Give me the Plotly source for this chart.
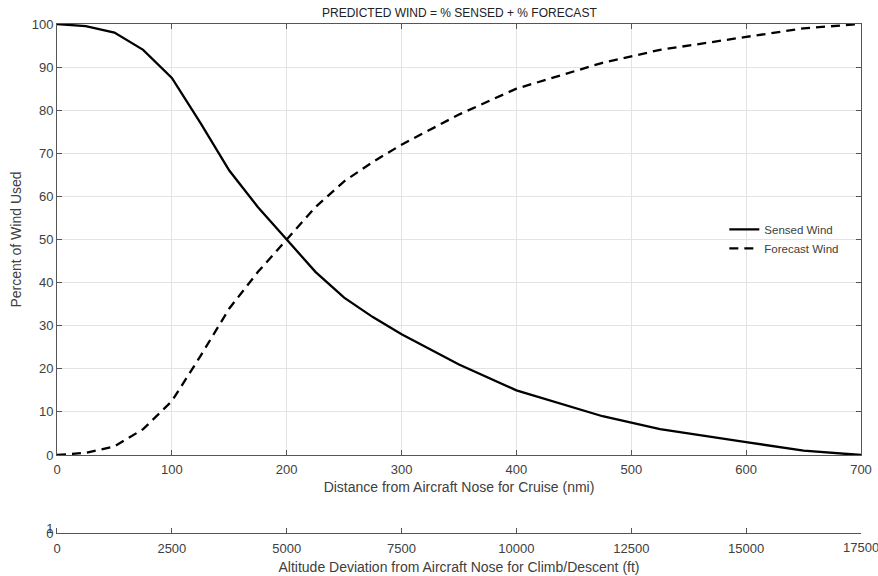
import plotly.graph_objects as go

# Distance from aircraft nose (nmi) and share of wind taken from each source (%)
distance_nmi = [0, 25, 50, 75, 100, 125, 150, 175, 200, 225, 250, 275, 300,
                350, 400, 450, 475, 500, 525, 600, 650, 700]
sensed_pct = [100, 99.5, 98, 94, 87.5, 77, 66, 57.5, 50, 42.5, 36.5, 32, 28,
              21, 15, 11, 9, 7.5, 6, 3, 1, 0]
forecast_pct = [0, 0.5, 2, 6, 12.5, 23, 34, 42.5, 50, 57.5, 63.5, 68, 72,
                79, 85, 89, 91, 92.5, 94, 97, 99, 100]

cruise_ticks = [0, 100, 200, 300, 400, 500, 600, 700]
pct_ticks = [0, 10, 20, 30, 40, 50, 60, 70, 80, 90, 100]
altitude_ticks = [0, 2500, 5000, 7500, 10000, 12500, 15000, 17500]

FONT = "Liberation Sans, Arial, sans-serif"
TXT = "#404040"
AX = "#555555"
GRID = "#e3e3e3"

fig = go.Figure()
fig.add_trace(go.Scatter(x=distance_nmi, y=sensed_pct, mode="lines",
                         name="Sensed Wind",
                         line=dict(color="black", width=2.3)))
fig.add_trace(go.Scatter(x=distance_nmi, y=forecast_pct, mode="lines",
                         name="Forecast Wind",
                         line=dict(color="black", width=2.3, dash="9px,6px")))
# empty trace so the altitude scale gets its own subplot
fig.add_trace(go.Scatter(x=[], y=[], xaxis="x2", yaxis="y2",
                         showlegend=False, hoverinfo="skip"))

tickfont = dict(family=FONT, size=13, color=TXT)
titlefont = dict(family=FONT, size=14, color=TXT)

# the last altitude label runs past the page edge, so plotly would drop it;
# draw it as an annotation instead
alt_text = [str(v) for v in altitude_ticks[:-1]] + [""]

fig.update_layout(
    width=878, height=576,
    margin=dict(l=57, r=17, t=24, b=43, autoexpand=False),
    plot_bgcolor="white", paper_bgcolor="white",
    font=dict(family=FONT, color=TXT),
    xaxis=dict(range=[0, 700], tickvals=cruise_ticks, ticks="inside",
               ticklen=5, tickcolor=AX, showline=True, linecolor=AX,
               linewidth=1, mirror="ticks", showgrid=True, gridcolor=GRID,
               zeroline=False, tickfont=tickfont, anchor="y",
               automargin=False, ticklabelstandoff=2,
               title=dict(text="Distance from Aircraft Nose for Cruise (nmi)",
                          font=titlefont, standoff=6)),
    yaxis=dict(range=[0, 100], tickvals=pct_ticks, ticks="inside",
               ticklen=5, tickcolor=AX, showline=True, linecolor=AX,
               linewidth=1, mirror="ticks", showgrid=True, gridcolor=GRID,
               zeroline=False, tickfont=tickfont, domain=[0.1532, 1],
               automargin=False,
               title=dict(text="Percent of Wind Used", font=titlefont,
                          standoff=6)),
    xaxis2=dict(range=[0, 17500], tickvals=altitude_ticks,
                ticktext=alt_text, ticks="inside",
                ticklen=5, tickcolor=AX, showline=True, linecolor=AX,
                linewidth=1, showgrid=False, zeroline=False,
                tickfont=tickfont, anchor="y2", automargin=False,
                ticklabelstandoff=3,
                title=dict(text="Altitude Deviation from Aircraft Nose for Climb/Descent (ft)",
                           font=titlefont, standoff=7)),
    yaxis2=dict(range=[0, 1], tickvals=[0, 1], ticks="inside", ticklen=4,
                tickcolor=AX, showline=True, linecolor=AX, linewidth=1,
                showgrid=False, zeroline=False, tickfont=tickfont,
                domain=[0, 0.0098], anchor="x2", automargin=False),
    legend=dict(x=0.83, y=0.578, xanchor="left", yanchor="middle",
                bgcolor="rgba(0,0,0,0)", borderwidth=0,
                font=dict(family=FONT, size=11.5, color=TXT),
                tracegroupgap=0, itemwidth=30),
    annotations=[
        dict(text="PREDICTED WIND = % SENSED + % FORECAST",
             xref="paper", yref="paper", x=0.5, y=1,
             xanchor="center", yanchor="bottom", yshift=2,
             showarrow=False,
             font=dict(family=FONT, size=12, color="#222222")),
        dict(text=str(altitude_ticks[-1]), xref="x2", yref="y2",
             x=altitude_ticks[-1], y=0, xanchor="center", yanchor="top",
             yshift=-5, showarrow=False, font=tickfont),
    ],
)

fig.write_html("out.html")
